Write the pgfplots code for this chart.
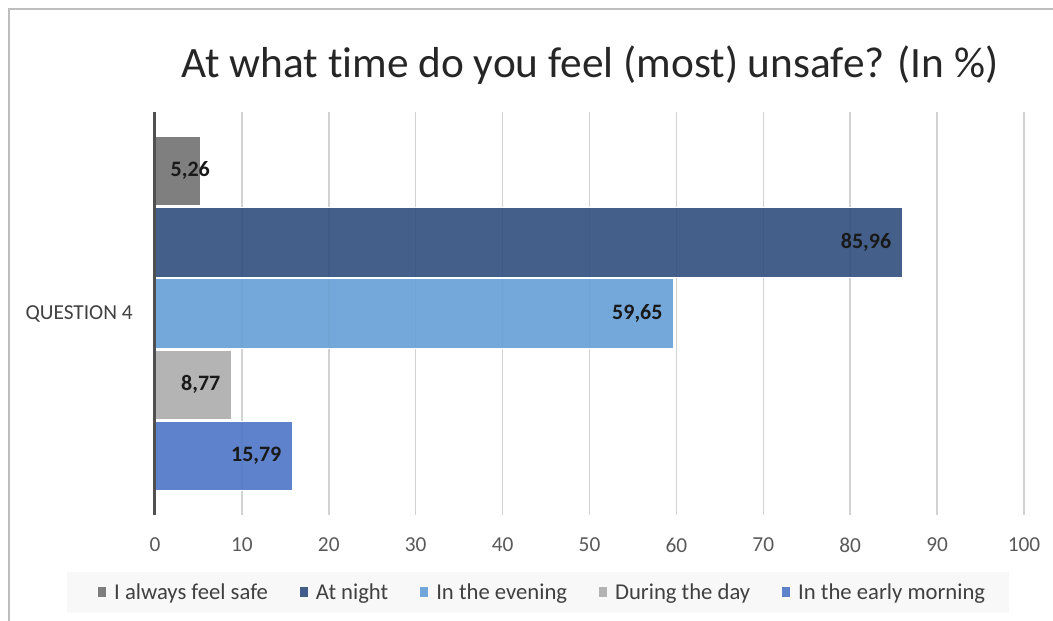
\documentclass[border=0pt]{standalone}
\usepackage{fontspec}
\setmainfont{Carlito}[Ligatures=NoCommon]
\usepackage{pgfplots}
\pgfplotsset{compat=1.18}

\definecolor{safegray}{RGB}{113,113,113}
\definecolor{nightblue}{RGB}{47,78,125}
\definecolor{eveningblue}{RGB}{101,159,214}
\definecolor{daygray}{RGB}{172,172,172}
\definecolor{morningblue}{RGB}{77,118,198}
\definecolor{gridgray}{RGB}{210,210,210}
\definecolor{framegray}{RGB}{190,190,190}
\definecolor{axisgray}{RGB}{80,80,80}
\definecolor{ticktext}{RGB}{89,89,89}
\definecolor{legendtext}{RGB}{64,64,64}
\definecolor{legendbg}{RGB}{248,248,248}

\begin{document}
\begin{tikzpicture}[x=0.75pt,y=0.75pt]
\useasboundingbox (0,0) rectangle (1053,621);
% chart frame (only left and top edges are in the screenshot)
\draw[color=framegray, line width=1.1pt] (9,0) -- (9,612) -- (1053,612);
% legend background
\fill[legendbg] (67,8) rectangle (1009,49);
\node[anchor=base, font=\fontsize{32.5}{37}\selectfont, text=black!85] at (590,543)
  {At what time do you feel (most) unsafe? (In \%)};

\begin{axis}[
  at={(116.25pt,79.5pt)}, anchor=south west,
  scale only axis, width=651.75pt, height=302.25pt,
  clip=false,
  xbar, bar width=52pt,
  xmin=0, xmax=100, ymin=-1, ymax=1,
  xtick={0,10,...,100}, ytick={0}, yticklabels={QUESTION 4},
  major tick length=0pt,
  xmajorgrids, grid style={color=gridgray, line width=1.1pt},
  axis line style={draw=none},
  tick label style={font=\fontsize{16}{19}\selectfont, text=ticktext},
  /pgf/number format/assume math mode=true,
  xticklabel style={anchor=center, yshift=-22.5pt},
  yticklabel style={anchor=east, inner sep=0pt, xshift=-16.5pt, text=legendtext},
  point meta=x,
  nodes near coords={\pgfmathprintnumber[fixed,fixed zerofill,precision=2,use comma,assume math mode=true]{\pgfplotspointmeta}},
  nodes near coords style={font=\bfseries\fontsize{16.5}{19}\selectfont, text=black!90, text opacity=1, anchor=east},
  every axis plot/.append style={draw=white, line width=0.6pt, fill opacity=0.9},
  legend columns=5,
  legend image code/.code={\fill[#1, draw=none] (0pt,-3.75pt) rectangle (6pt,3.75pt);},
  legend style={at={(axis description cs:0.4465,-0.1923)}, anchor=center,
    draw=none, fill=none, font=\fontsize{17}{20}\selectfont, text=legendtext,
    /tikz/every odd column/.append style={column sep=4pt},
    /tikz/every even column/.append style={column sep=22pt}},
]
\addplot[fill=safegray, bar shift=106.9pt, nodes near coords style={xshift=10.5pt}]
  coordinates {(5.26,0)};
\addlegendentry{I always feel safe}
\addplot[fill=nightblue, bar shift=53.4pt, nodes near coords style={xshift=-4.5pt}]
  coordinates {(85.96,0)};
\addlegendentry{At night}
\addplot[fill=eveningblue, bar shift=0pt, nodes near coords style={xshift=-4.5pt}]
  coordinates {(59.65,0)};
\addlegendentry{In the evening}
\addplot[fill=daygray, bar shift=-53.4pt, nodes near coords style={xshift=-4.5pt}]
  coordinates {(8.77,0)};
\addlegendentry{During the day}
\addplot[fill=morningblue, bar shift=-106.9pt, nodes near coords style={xshift=-4.5pt}]
  coordinates {(15.79,0)};
\addlegendentry{In the early morning}
% vertical axis line
\draw[line width=2.25pt, color=axisgray] (axis cs:0,-1) -- (axis cs:0,1);
\end{axis}
\end{tikzpicture}
\end{document}
